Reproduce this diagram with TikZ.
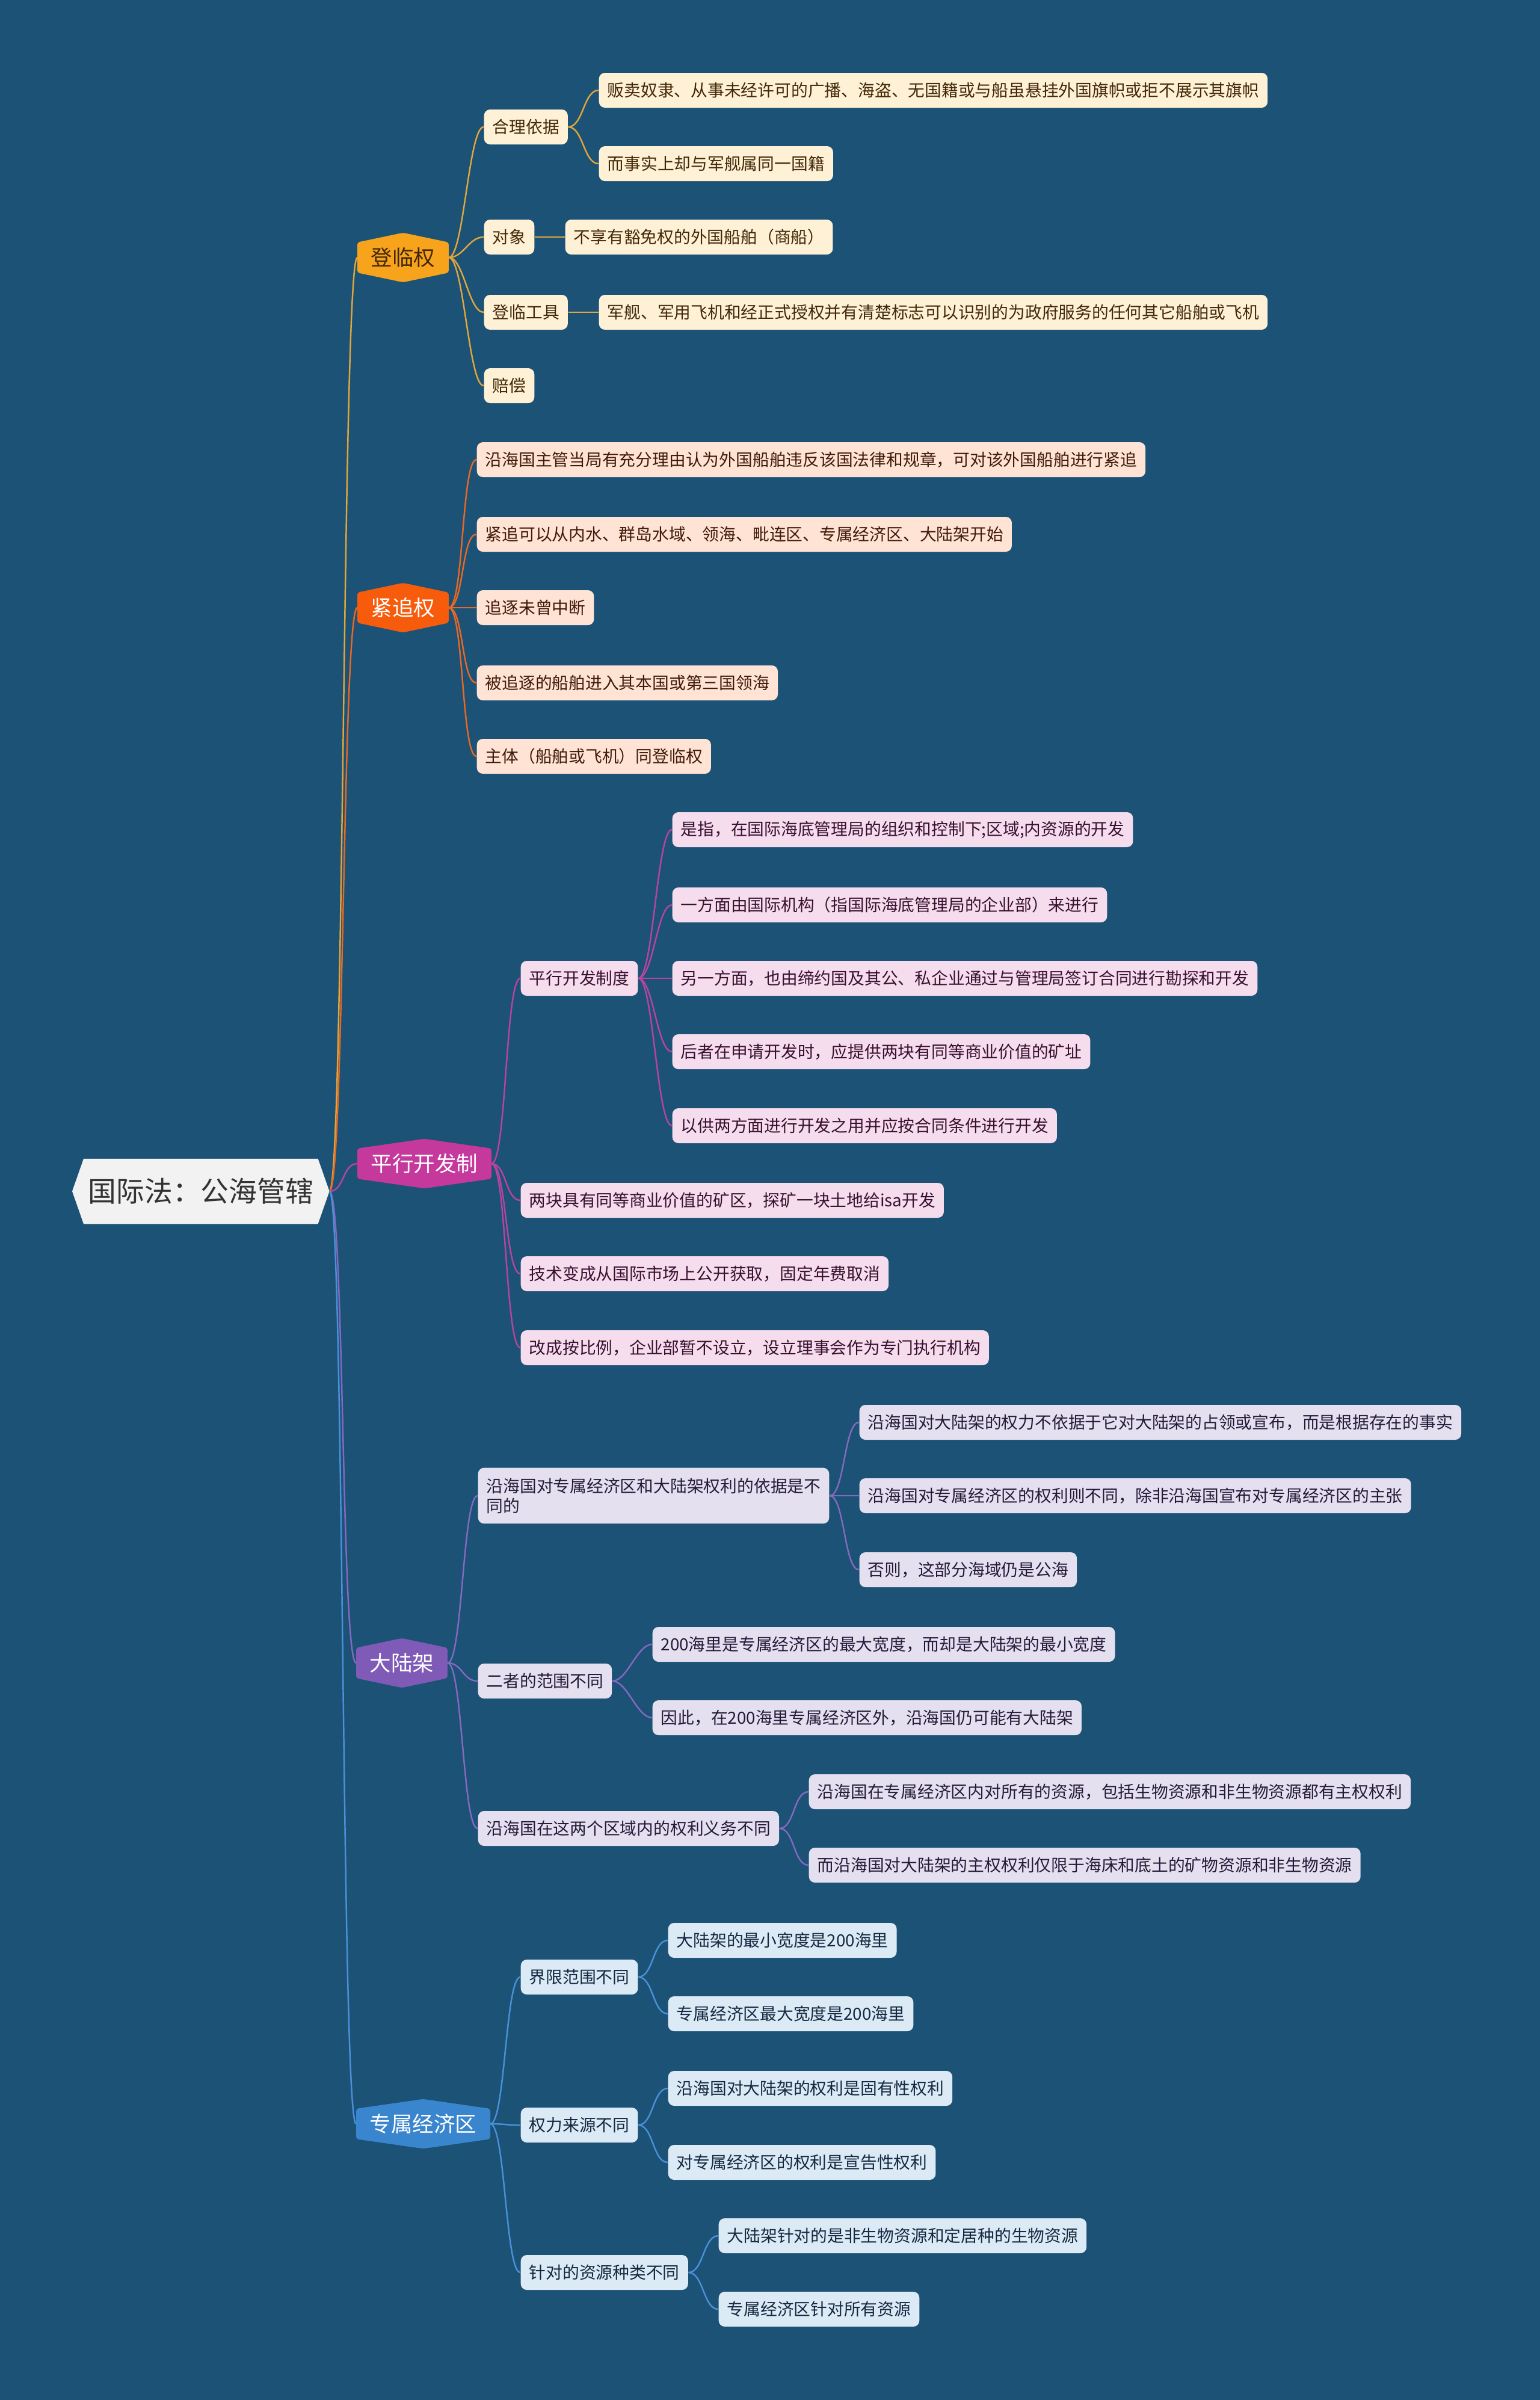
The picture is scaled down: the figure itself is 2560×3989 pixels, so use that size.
\documentclass[tikz,border=0pt]{standalone}
\usepackage{fontspec}
\setmainfont{Noto Sans CJK SC}
\usepackage{xcolor}
\usetikzlibrary{backgrounds}

\definecolor{bgsea}{RGB}{27,82,118}
\definecolor{rootfill}{RGB}{242,242,242}
\definecolor{rootink}{RGB}{51,51,51}
\definecolor{boardfill}{RGB}{247,163,28}
\definecolor{boardink}{RGB}{66,40,8}
\definecolor{boardbox}{RGB}{255,241,214}
\definecolor{boardline}{RGB}{226,166,58}
\definecolor{chasefill}{RGB}{247,91,12}
\definecolor{chaseink}{RGB}{66,26,8}
\definecolor{chasebox}{RGB}{255,228,214}
\definecolor{chaseline}{RGB}{232,104,36}
\definecolor{parafill}{RGB}{197,56,156}
\definecolor{paraink}{RGB}{56,16,46}
\definecolor{parabox}{RGB}{246,221,238}
\definecolor{paraline}{RGB}{184,68,160}
\definecolor{shelffill}{RGB}{127,90,182}
\definecolor{shelfink}{RGB}{36,26,56}
\definecolor{shelfbox}{RGB}{229,224,240}
\definecolor{shelfline}{RGB}{134,104,192}
\definecolor{eezfill}{RGB}{58,134,206}
\definecolor{eezink}{RGB}{20,40,64}
\definecolor{eezbox}{RGB}{220,234,246}
\definecolor{eezline}{RGB}{74,144,218}

% hexagon behind a branch title, tips up and down
\newcommand{\tophex}[2]{%
  \fill[#2, rounded corners=0.04cm] ([yshift=-0.16cm]#1.north west) -- (#1.north)
    -- ([yshift=-0.16cm]#1.north east) -- ([yshift=0.16cm]#1.south east)
    -- (#1.south) -- ([yshift=0.16cm]#1.south west) -- cycle;}

\begin{document}
\begin{tikzpicture}[x=0.01cm, y=-0.01cm,
    root/.style={font=\fontsize{13.3}{16}\selectfont, text=rootink, minimum height=1.07cm,
                 inner xsep=0.26cm, anchor=west},
    topic/.style={font=\fontsize{10.1}{12}\selectfont, text=white, minimum height=0.81cm,
                  inner xsep=0.22cm, anchor=west},
    leaf/.style={rounded corners=0.1cm, minimum height=0.58cm, inner xsep=0.14cm,
                 anchor=west, align=left, font=\fontsize{7.9}{9.4}\selectfont},
    dl/.style={leaf, fill=boardbox, text=boardink},
    jz/.style={leaf, fill=chasebox, text=chaseink},
    px/.style={leaf, fill=parabox, text=paraink},
    dlj/.style={leaf, fill=shelfbox, text=shelfink},
    zs/.style={leaf, fill=eezbox, text=eezink},
    link/.style={line width=0.7pt, out=0, in=180, distance=0.25cm}
  ]
  \node[root] (root) at (120,1980) {国际法：公海管辖};

  \node[topic, text=boardink] (t1) at (594,428) {登临权};
  \node[topic] (t2) at (594,1010) {紧追权};
  \node[topic] (t3) at (594,1934) {平行开发制};
  \node[topic] (t4) at (592,2764) {大陆架};
  \node[topic] (t5) at (592,3530) {专属经济区};

  % 登临权
  \node[dl] (a1)  at (804,211) {合理依据};
  \node[dl] (a11) at (995,150) {贩卖奴隶、从事未经许可的广播、海盗、无国籍或与船虽悬挂外国旗帜或拒不展示其旗帜};
  \node[dl] (a12) at (995,272) {而事实上却与军舰属同一国籍};
  \node[dl] (a2)  at (804,394) {对象};
  \node[dl] (a21) at (939,394) {不享有豁免权的外国船舶（商船）};
  \node[dl] (a3)  at (804,519) {登临工具};
  \node[dl] (a31) at (995,519) {军舰、军用飞机和经正式授权并有清楚标志可以识别的为政府服务的任何其它船舶或飞机};
  \node[dl] (a4)  at (804,641) {赔偿};

  % 紧追权
  \node[jz] (b1) at (792,764)  {沿海国主管当局有充分理由认为外国船舶违反该国法律和规章，可对该外国船舶进行紧追};
  \node[jz] (b2) at (792,888)  {紧追可以从内水、群岛水域、领海、毗连区、专属经济区、大陆架开始};
  \node[jz] (b3) at (792,1010) {追逐未曾中断};
  \node[jz] (b4) at (792,1135) {被追逐的船舶进入其本国或第三国领海};
  \node[jz] (b5) at (792,1257) {主体（船舶或飞机）同登临权};

  % 平行开发制
  \node[px] (c1)  at (865,1626)  {平行开发制度};
  \node[px] (c11) at (1117,1379) {是指，在国际海底管理局的组织和控制下;区域;内资源的开发};
  \node[px] (c12) at (1117,1504) {一方面由国际机构（指国际海底管理局的企业部）来进行};
  \node[px] (c13) at (1117,1626) {另一方面，也由缔约国及其公、私企业通过与管理局签订合同进行勘探和开发};
  \node[px] (c14) at (1117,1748) {后者在申请开发时，应提供两块有同等商业价值的矿址};
  \node[px] (c15) at (1117,1871) {以供两方面进行开发之用并应按合同条件进行开发};
  \node[px] (c2)  at (865,1995)  {两块具有同等商业价值的矿区，探矿一块土地给isa开发};
  \node[px] (c3)  at (865,2117)  {技术变成从国际市场上公开获取，固定年费取消};
  \node[px] (c4)  at (865,2240)  {改成按比例，企业部暂不设立，设立理事会作为专门执行机构};

  % 大陆架
  \node[dlj, inner ysep=0.17cm] (d1) at (794,2486) {沿海国对专属经济区和大陆架权利的依据是不\\同的};
  \node[dlj] (d11) at (1428,2364) {沿海国对大陆架的权力不依据于它对大陆架的占领或宣布，而是根据存在的事实};
  \node[dlj] (d12) at (1428,2486) {沿海国对专属经济区的权利则不同，除非沿海国宣布对专属经济区的主张};
  \node[dlj] (d13) at (1428,2609) {否则，这部分海域仍是公海};
  \node[dlj] (d2)  at (794,2794)  {二者的范围不同};
  \node[dlj] (d21) at (1084,2733) {200海里是专属经济区的最大宽度，而却是大陆架的最小宽度};
  \node[dlj] (d22) at (1084,2855) {因此，在200海里专属经济区外，沿海国仍可能有大陆架};
  \node[dlj] (d3)  at (794,3039)  {沿海国在这两个区域内的权利义务不同};
  \node[dlj] (d31) at (1344,2978) {沿海国在专属经济区内对所有的资源，包括生物资源和非生物资源都有主权权利};
  \node[dlj] (d32) at (1344,3100) {而沿海国对大陆架的主权权利仅限于海床和底土的矿物资源和非生物资源};

  % 专属经济区
  \node[zs] (e1)  at (865,3286)  {界限范围不同};
  \node[zs] (e11) at (1110,3225) {大陆架的最小宽度是200海里};
  \node[zs] (e12) at (1110,3347) {专属经济区最大宽度是200海里};
  \node[zs] (e2)  at (865,3532)  {权力来源不同};
  \node[zs] (e21) at (1110,3471) {沿海国对大陆架的权利是固有性权利};
  \node[zs] (e22) at (1110,3594) {对专属经济区的权利是宣告性权利};
  \node[zs] (e3)  at (865,3777)  {针对的资源种类不同};
  \node[zs] (e31) at (1194,3716) {大陆架针对的是非生物资源和定居种的生物资源};
  \node[zs] (e32) at (1194,3838) {专属经济区针对所有资源};

  \begin{scope}[on background layer]
    \fill[bgsea] (0,0) rectangle (2560,3989);
    \fill[rootfill] (root.west) -- ([xshift=0.19cm]root.north west) -- ([xshift=-0.19cm]root.north east)
      -- (root.east) -- ([xshift=-0.19cm]root.south east) -- ([xshift=0.19cm]root.south west) -- cycle;
    \tophex{t1}{boardfill}
    \tophex{t2}{chasefill}
    \tophex{t3}{parafill}
    \tophex{t4}{shelffill}
    \tophex{t5}{eezfill}
  \end{scope}

  \foreach \t/\c in {t1/boardline, t2/chaseline, t3/paraline, t4/shelfline, t5/eezline}
    \draw[link, \c] (root.east) to (\t.west);

  \foreach \n in {a1,a2,a3,a4}
    \draw[link, boardline] (t1.east) to (\n.west);
  \draw[link, boardline] (a1.east) to (a11.west);
  \draw[link, boardline] (a1.east) to (a12.west);
  \draw[link, boardline] (a2.east) to (a21.west);
  \draw[link, boardline] (a3.east) to (a31.west);

  \foreach \n in {b1,b2,b3,b4,b5}
    \draw[link, chaseline] (t2.east) to (\n.west);

  \foreach \n in {c1,c2,c3,c4}
    \draw[link, paraline] (t3.east) to (\n.west);
  \foreach \n in {c11,c12,c13,c14,c15}
    \draw[link, paraline] (c1.east) to (\n.west);

  \foreach \n in {d1,d2,d3}
    \draw[link, shelfline] (t4.east) to (\n.west);
  \foreach \n in {d11,d12,d13}
    \draw[link, shelfline] (d1.east) to (\n.west);
  \draw[link, shelfline] (d2.east) to (d21.west);
  \draw[link, shelfline] (d2.east) to (d22.west);
  \draw[link, shelfline] (d3.east) to (d31.west);
  \draw[link, shelfline] (d3.east) to (d32.west);

  \foreach \n in {e1,e2,e3}
    \draw[link, eezline] (t5.east) to (\n.west);
  \draw[link, eezline] (e1.east) to (e11.west);
  \draw[link, eezline] (e1.east) to (e12.west);
  \draw[link, eezline] (e2.east) to (e21.west);
  \draw[link, eezline] (e2.east) to (e22.west);
  \draw[link, eezline] (e3.east) to (e31.west);
  \draw[link, eezline] (e3.east) to (e32.west);
\end{tikzpicture}
\end{document}
